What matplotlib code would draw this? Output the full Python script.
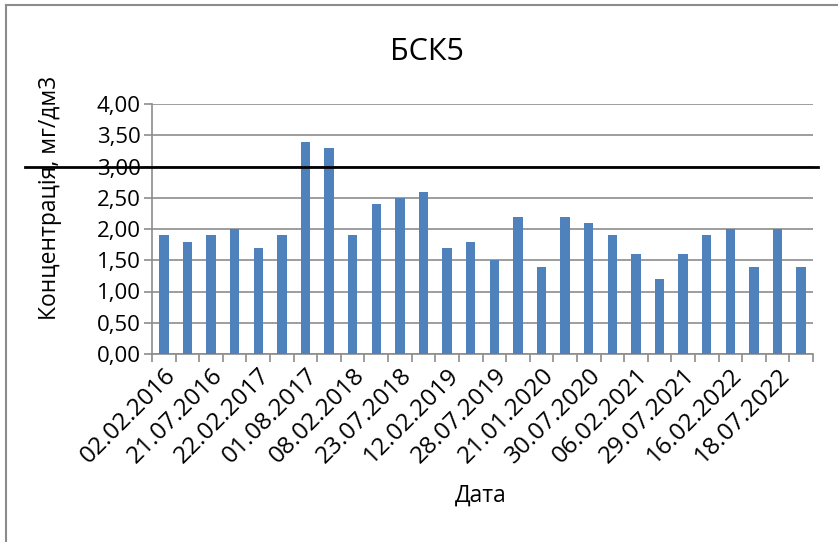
import matplotlib
matplotlib.use("Agg")
import matplotlib.pyplot as plt
import matplotlib.transforms as mtransforms
from matplotlib.lines import Line2D
import numpy as np

plt.rcParams['font.family'] = ['Open Sans', 'DejaVu Sans']

title = "БСК5"
ylabel = "Концентрація, мг/дм3"
xlabel = "Дата"
# every second sampling date is labelled on the axis
date_labels = ["02.02.2016", "21.07.2016", "22.02.2017", "01.08.2017", "08.02.2018",
               "23.07.2018", "12.02.2019", "28.07.2019", "21.01.2020", "30.07.2020",
               "06.02.2021", "29.07.2021", "16.02.2022", "18.07.2022"]
values = [1.9, 1.8, 1.9, 2.0, 1.7, 1.9, 3.4, 3.3, 1.9, 2.4, 2.5, 2.6, 1.7, 1.8,
          1.5, 2.2, 1.4, 2.2, 2.1, 1.9, 1.6, 1.2, 1.6, 1.9, 2.0, 1.4, 2.0, 1.4]
limit = 3.0
yticks = [0, 0.5, 1.0, 1.5, 2.0, 2.5, 3.0, 3.5, 4.0]

W, H = 838, 542
fig = plt.figure(figsize=(W / 100, H / 100), dpi=100)
ax = fig.add_axes([152 / W, 1 - 354 / H, (813 - 152) / W, (354 - 104) / H])

n = len(values)
x = np.arange(n)
ax.bar(x, values, width=0.4, color='#4f81bd', zorder=3)
ax.set_xlim(-0.5, n - 0.5)
ax.set_ylim(0, 4)

ax.set_yticks(yticks)
ax.set_yticklabels([f"{v:.2f}".replace('.', ',') for v in yticks], fontsize=16)
ax.yaxis.grid(True, color='#8c8c8c', linewidth=1.2, zorder=0)
ax.tick_params(axis='y', length=6, color='#8c8c8c', width=1.2, pad=2)

ax.set_xticks(x[::2])
ax.set_xticklabels(date_labels, rotation=45, ha='right', va='top',
                   rotation_mode='anchor', fontsize=17.5)
ax.tick_params(axis='x', which='major', length=0, pad=7)
ax.set_xticks(np.arange(n + 1) - 0.5, minor=True)
ax.tick_params(axis='x', which='minor', length=6, color='#8c8c8c', width=1.2)

for s in ['top', 'right']:
    ax.spines[s].set_visible(False)
for s in ['left', 'bottom']:
    ax.spines[s].set_color('#8c8c8c')
    ax.spines[s].set_linewidth(1.2)

# limit line spanning the chart area
trans = mtransforms.blended_transform_factory(fig.transFigure, ax.transData)
ax.plot([25 / W, 818 / W], [limit, limit], color='black', linewidth=2,
        transform=trans, clip_on=False, zorder=5)

fig.text(427 / W, 1 - 52 / H, title, ha='center', va='center', fontsize=22)
fig.text(50 / W, 1 - 198 / H, ylabel, ha='center', va='center', rotation=90, fontsize=16.5)
fig.text(481 / W, 1 - 496 / H, xlabel, ha='center', va='center', fontsize=16.5)

# chart border (top and left visible)
fig.add_artist(Line2D([6 / W, 1], [1 - 5 / H, 1 - 5 / H], transform=fig.transFigure,
                      color='#8c8c8c', linewidth=1.5))
fig.add_artist(Line2D([6 / W, 6 / W], [0, 1 - 5 / H], transform=fig.transFigure,
                      color='#8c8c8c', linewidth=1.5))

fig.savefig("out.png", dpi=100)
